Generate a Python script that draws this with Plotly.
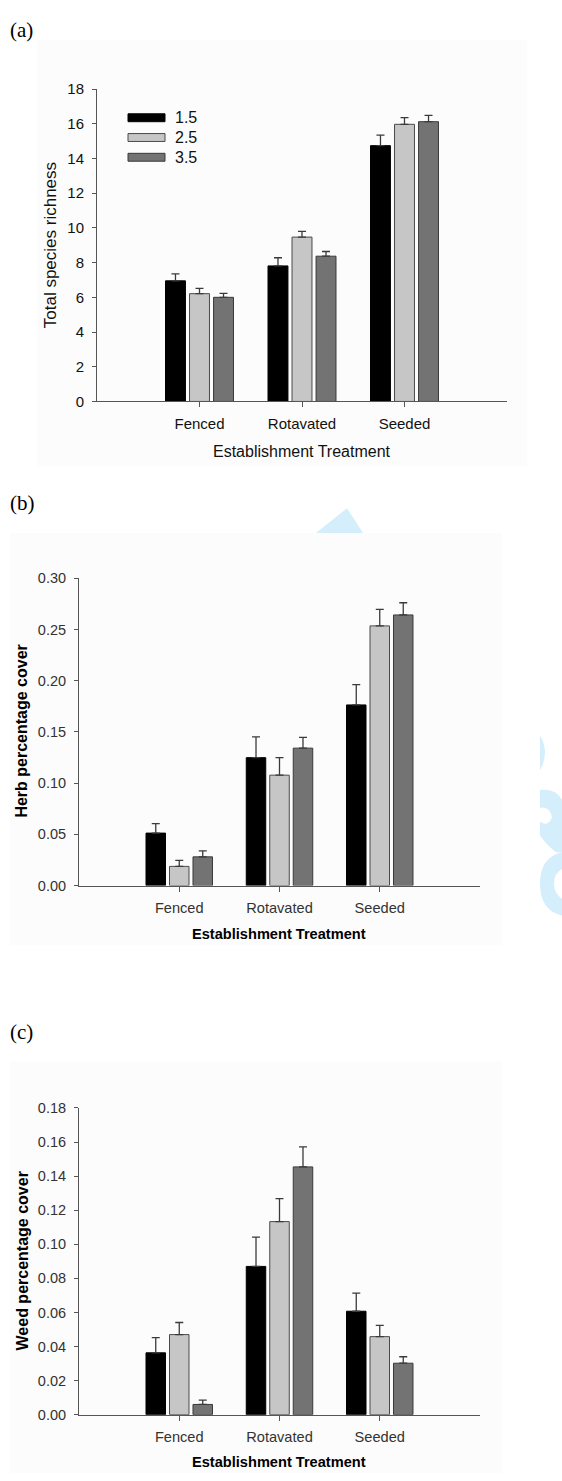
import plotly.graph_objects as go

W, H = 562, 1481

categories = ["Fenced", "Rotavated", "Seeded"]
series_names = ["1.5", "2.5", "3.5"]

# Panel (a) Total species richness
rich_15 = [6.95, 7.81, 14.74]
rich_25 = [6.21, 9.47, 15.97]
rich_35 = [6.00, 8.37, 16.12]
rich_se_15 = [0.40, 0.47, 0.61]
rich_se_25 = [0.31, 0.33, 0.38]
rich_se_35 = [0.23, 0.27, 0.36]

# Panel (b) Herb percentage cover
herb_15 = [0.0512, 0.1249, 0.1764]
herb_25 = [0.0187, 0.1078, 0.2536]
herb_35 = [0.0280, 0.1342, 0.2643]
herb_se_15 = [0.0093, 0.0203, 0.0199]
herb_se_25 = [0.0058, 0.0171, 0.0161]
herb_se_35 = [0.0058, 0.0106, 0.0119]

# Panel (c) Weed percentage cover
weed_15 = [0.0363, 0.0870, 0.0607]
weed_25 = [0.0470, 0.1133, 0.0458]
weed_35 = [0.0060, 0.1454, 0.0302]
weed_se_15 = [0.0089, 0.0172, 0.0106]
weed_se_25 = [0.0071, 0.0135, 0.0066]
weed_se_35 = [0.0025, 0.0118, 0.0038]

fills = ["#000000", "#c6c6c6", "#737373"]
outlines = ["#000000", "#4a4a4a", "#3a3a3a"]


def px(x):
    return x / W


def py(y):
    return 1 - y / H


fig = go.Figure()

panels = [
    ("", [rich_15, rich_25, rich_35], [rich_se_15, rich_se_25, rich_se_35]),
    ("2", [herb_15, herb_25, herb_35], [herb_se_15, herb_se_25, herb_se_35]),
    ("3", [weed_15, weed_25, weed_35], [weed_se_15, weed_se_25, weed_se_35]),
]

for suffix, vals, ses in panels:
    for i in range(3):
        fig.add_trace(go.Bar(
            x=categories, y=vals[i], name=series_names[i],
            marker=dict(color=fills[i], line=dict(color=outlines[i], width=1)),
            error_y=dict(type="data", symmetric=False, array=ses[i],
                         arrayminus=[0, 0, 0], color="#3a3a3a",
                         thickness=1.3, width=4),
            xaxis="x" + suffix, yaxis="y" + suffix, showlegend=False,
        ))

dom = {
    "": dict(x=[px(97), px(507)], y=[py(397), py(81)]),
    "2": dict(x=[px(79), px(480)], y=[py(886.7), py(576)]),
    "3": dict(x=[px(79), px(480)], y=[py(1422), py(1111.7)]),
}

sans = "Liberation Sans, Arial, sans-serif"

layout = dict(
    width=W, height=H, margin=dict(l=0, r=0, t=0, b=0),
    paper_bgcolor="white", plot_bgcolor="rgba(0,0,0,0)",
    barmode="group", bargap=0.297, bargroupgap=0.17,
    showlegend=False,
)

ydefs = {
    "": dict(range=[0, 18], dtick=2, tickformat="d", color="#111",
             ysize=15, xsize=15),
    "2": dict(range=[0, 0.30], dtick=0.05, tickformat=".2f", color="#333",
              ysize=14.5, xsize=14.6),
    "3": dict(range=[0, 0.18], dtick=0.02, tickformat=".2f", color="#333",
              ysize=14.5, xsize=14.6),
}

for suffix in ["", "2", "3"]:
    xa = "xaxis" + suffix
    ya = "yaxis" + suffix
    yd = ydefs[suffix]
    layout[xa] = dict(
        domain=dom[suffix]["x"], anchor="y" + suffix, type="category",
        range=[-1, 3], showline=True, linecolor="#555", linewidth=1,
        ticks="outside", ticklen=5, tickcolor="#555", showgrid=False,
        zeroline=False, ticklabelstandoff=4,
        tickfont=dict(family=sans, size=yd["xsize"], color=yd["color"]),
        fixedrange=True,
    )
    layout[ya] = dict(
        domain=dom[suffix]["y"], anchor="x" + suffix, range=yd["range"],
        dtick=yd["dtick"], tickformat=yd["tickformat"], showline=True,
        linecolor="#555", linewidth=1, ticks="outside", ticklen=4,
        tickcolor="#555", showgrid=False, zeroline=False,
        ticklabelstandoff=5,
        tickfont=dict(family=sans, size=yd["ysize"], color=yd["color"]),
        fixedrange=True,
    )

fig.update_layout(**layout)

wm = "#d4eefb"
shapes = [
    dict(type="rect", xref="paper", yref="paper", x0=px(37), x1=px(527),
         y0=py(463), y1=py(31), fillcolor="#fcfcfc", line=dict(width=0),
         layer="below"),
    dict(type="path", xref="paper", yref="paper",
         path=f"M {px(316)},{py(530)} L {px(347)},{py(505)} L {px(363)},{py(530)} Z",
         fillcolor=wm, line=dict(width=0), layer="below"),
    dict(type="path", xref="paper", yref="paper",
         path=(f"M {px(540)},{py(735)} Q {px(550)},{py(752)} {px(540)},{py(770)} Z"),
         fillcolor=wm, line=dict(width=0), layer="below"),
    dict(type="path", xref="paper", yref="paper",
         path=(f"M {px(540)},{py(790)} Q {px(556)},{py(788)} {px(562)},{py(800)} "
               f"L {px(562)},{py(853)} L {px(556)},{py(853)} "
               f"Q {px(546)},{py(845)} {px(540)},{py(836)} "
               f"L {px(540)},{py(822)} Q {px(548)},{py(828)} {px(552)},{py(818)} "
               f"Q {px(550)},{py(806)} {px(540)},{py(808)} Z"),
         fillcolor=wm, line=dict(width=0), layer="below"),
    dict(type="path", xref="paper", yref="paper",
         path=(f"M {px(562)},{py(853)} Q {px(540)},{py(858)} {px(540)},{py(885)} "
               f"Q {px(540)},{py(912)} {px(562)},{py(917)} L {px(562)},{py(900)} "
               f"Q {px(554)},{py(895)} {px(554)},{py(885)} "
               f"Q {px(554)},{py(874)} {px(562)},{py(870)} Z"),
         fillcolor=wm, line=dict(width=0), layer="below"),
    dict(type="rect", xref="paper", yref="paper", x0=px(10), x1=px(502),
         y0=py(947), y1=py(530), fillcolor="#fcfcfc", line=dict(width=0),
         layer="below"),
    dict(type="rect", xref="paper", yref="paper", x0=px(10), x1=px(502),
         y0=py(1481), y1=py(1065), fillcolor="#fcfcfc", line=dict(width=0),
         layer="below"),
]

annotations = []
for i in range(3):
    yc = 110 + 20 * i
    shapes.append(dict(type="rect", xref="paper", yref="paper",
                       x0=px(128), x1=px(165), y0=py(yc + 4), y1=py(yc - 4),
                       fillcolor=fills[i], line=dict(color=outlines[i], width=1)))
    annotations.append(dict(xref="paper", yref="paper", x=px(173), y=py(yc),
                            text=series_names[i], showarrow=False,
                            xanchor="left", yanchor="middle",
                            font=dict(family=sans, size=16, color="#111")))

serif = "Liberation Serif, Times New Roman, serif"
for lab, yy in [("(a)", 21), ("(b)", 500), ("(c)", 1035)]:
    annotations.append(dict(xref="paper", yref="paper", x=px(8), y=py(yy),
                            text=lab, showarrow=False, xanchor="left",
                            yanchor="middle",
                            font=dict(family=serif, size=21, color="#000")))

annotations += [
    dict(xref="paper", yref="paper", x=px(302), y=py(448),
         text="Establishment Treatment", showarrow=False,
         xanchor="center", yanchor="middle",
         font=dict(family=sans, size=16, color="#111")),
    dict(xref="paper", yref="paper", x=px(50), y=py(239),
         text="Total species richness", showarrow=False, textangle=-90,
         xanchor="center", yanchor="middle",
         font=dict(family=sans, size=17, color="#111")),
    dict(xref="paper", yref="paper", x=px(279), y=py(936),
         text="<b>Establishment Treatment</b>", showarrow=False,
         xanchor="center", yanchor="middle",
         font=dict(family=sans, size=14.6, color="#000")),
    dict(xref="paper", yref="paper", x=px(22), y=py(731),
         text="<b>Herb percentage cover</b>", showarrow=False, textangle=-90,
         xanchor="center", yanchor="middle",
         font=dict(family=sans, size=16, color="#000")),
    dict(xref="paper", yref="paper", x=px(279), y=py(1470),
         text="<b>Establishment Treatment</b>", showarrow=False,
         xanchor="center", yanchor="middle",
         font=dict(family=sans, size=14.6, color="#000")),
    dict(xref="paper", yref="paper", x=px(22), y=py(1267),
         text="<b>Weed percentage cover</b>", showarrow=False, textangle=-90,
         xanchor="center", yanchor="middle",
         font=dict(family=sans, size=16, color="#000")),
]

fig.update_layout(shapes=shapes, annotations=annotations)

fig.write_html("out.html")
